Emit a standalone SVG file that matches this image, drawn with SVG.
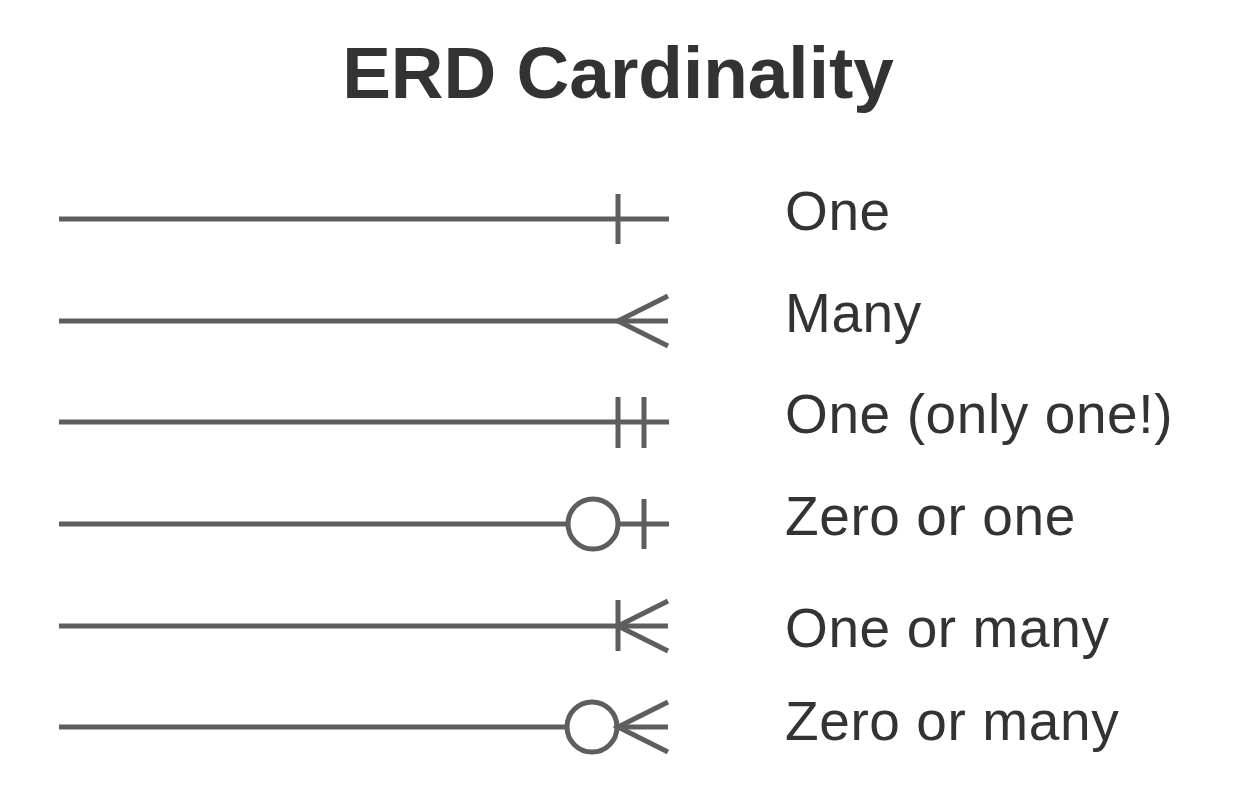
<svg xmlns="http://www.w3.org/2000/svg" width="1242" height="812" viewBox="0 0 1242 812">
<style>
.ln{stroke:#5e5e5e;stroke-width:5;fill:none;stroke-linecap:butt}
.lbl{font-family:"Liberation Sans",Arial,sans-serif;font-size:55px;letter-spacing:0.6px;fill:#333333}
.title{font-family:"Liberation Sans",Arial,sans-serif;font-size:73px;font-weight:bold;fill:#333333}
</style>
<rect width="1242" height="812" fill="#ffffff"/>
<g id="title"><text class="title" x="618" y="98" text-anchor="middle">ERD Cardinality</text></g>
<g id="connectors">
  <g id="one">
    <line class="ln" x1="59" y1="219" x2="669" y2="219"/>
    <line class="ln" x1="618" y1="194" x2="618" y2="244"/>
  </g>
  <g id="many">
    <line class="ln" x1="59" y1="321" x2="668" y2="321"/>
    <polyline class="ln" points="668,296 618,321 668,346"/>
  </g>
  <g id="only-one">
    <line class="ln" x1="59" y1="422" x2="669" y2="422"/>
    <line class="ln" x1="618" y1="397" x2="618" y2="448"/>
    <line class="ln" x1="644" y1="397" x2="644" y2="448"/>
  </g>
  <g id="zero-or-one">
    <line class="ln" x1="59" y1="524" x2="568" y2="524"/>
    <circle class="ln" cx="593" cy="524" r="25"/>
    <line class="ln" x1="618" y1="524" x2="669" y2="524"/>
    <line class="ln" x1="644" y1="499" x2="644" y2="549"/>
  </g>
  <g id="one-or-many">
    <line class="ln" x1="59" y1="626" x2="668" y2="626"/>
    <line class="ln" x1="618" y1="600" x2="618" y2="651"/>
    <polyline class="ln" points="668,601 618,626 668,651"/>
  </g>
  <g id="zero-or-many">
    <line class="ln" x1="59" y1="727" x2="567" y2="727"/>
    <circle class="ln" cx="592" cy="727" r="25"/>
    <line class="ln" x1="617" y1="727" x2="668" y2="727"/>
    <polyline class="ln" points="668,702 618,727 668,752"/>
  </g>
</g>
<g id="labels">
  <text class="lbl" x="785" y="230">One</text>
  <text class="lbl" x="785" y="332">Many</text>
  <text class="lbl" x="785" y="433">One (only one!)</text>
  <text class="lbl" x="785" y="535">Zero or one</text>
  <text class="lbl" x="785" y="647">One or many</text>
  <text class="lbl" x="785" y="740">Zero or many</text>
</g>
</svg>
